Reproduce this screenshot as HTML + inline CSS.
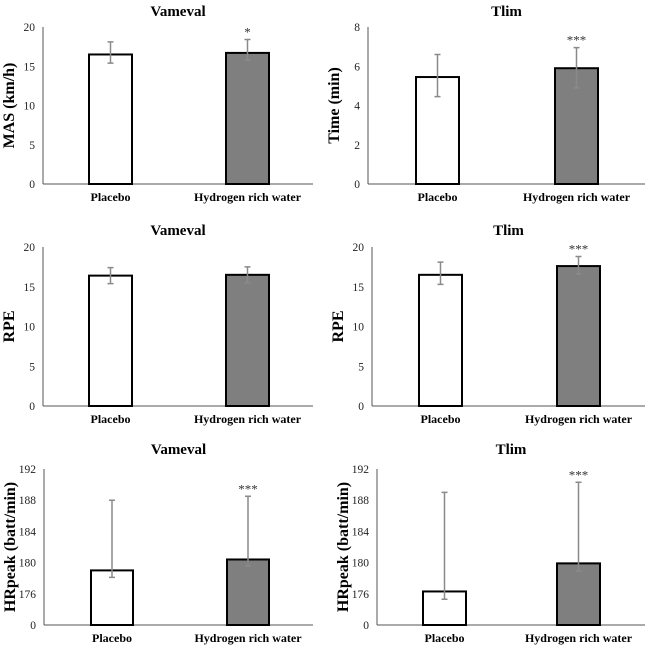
<!DOCTYPE html>
<html><head><meta charset="utf-8"><style>
body{margin:0;background:#fff;}
svg{display:block;font-family:"Liberation Serif",serif;}
</style></head><body>
<svg id="c" width="650" height="648"></svg>
<script>
const categories = ["Placebo","Hydrogen rich water"];
const p1Values = [16.5, 16.7], p1Lo = [15.4, 15.8], p1Hi = [18.1, 18.4], p1Sig = ["", "*"];
const p2Values = [5.45, 5.9], p2Lo = [4.45, 4.9], p2Hi = [6.6, 6.95], p2Sig = ["", "***"];
const p3Values = [16.4, 16.5], p3Lo = [15.4, 15.5], p3Hi = [17.4, 17.5], p3Sig = ["", ""];
const p4Values = [16.5, 17.6], p4Lo = [15.3, 16.6], p4Hi = [18.1, 18.8], p4Sig = ["", "***"];
const p5Values = [179.0, 180.4], p5Lo = [178.1, 179.6], p5Hi = [188.0, 188.5], p5Sig = ["", "***"];
const p6Values = [176.3, 179.9], p6Lo = [175.3, 178.9], p6Hi = [189.0, 190.3], p6Sig = ["", "***"];
const ticks20 = ["0","5","10","15","20"];
const ticks8 = ["0","2","4","6","8"];
const ticksHR = ["0","176","180","184","188","192"];

const svg = document.getElementById('c');
const NS = "http://www.w3.org/2000/svg";
function mk(tag, attrs, parent){const e=document.createElementNS(NS,tag);for(const k in attrs)e.setAttribute(k,attrs[k]);(parent||svg).appendChild(e);return e;}

function panel(o){
  const g = mk('g',{});
  
  
  const n = o.ticks.length-1;
  const y = v => o.y0 - o.pos(v)/n*(o.y0-o.yTop);
  const t = mk('text',{x:(o.ax+o.axEnd)/2,y:o.titleY,'text-anchor':'middle','font-size':15,'font-weight':'bold'},g);
  t.textContent = o.title;
  
  
  const yl = mk('text',{transform:`translate(${o.ax-29},${(o.y0+o.yTop)/2}) rotate(-90)`,'text-anchor':'middle','font-size':16,'font-weight':'bold'},g);
  yl.textContent = o.ylab;
  
  
  o.ticks.forEach((lab,i)=>{
    const yy = o.y0 - i/n*(o.y0-o.yTop);
    const tt = mk('text',{x:o.ax-8,y:yy+4,'text-anchor':'end','font-size':11.5,fill:'#222'},g);
    tt.textContent = lab;
    
    
  });
  const ya = mk('line',{x1:o.ax,y1:o.yTop,x2:o.ax,y2:o.y0,stroke:'#555','stroke-width':1},g);
  
  
  const xa = mk('line',{x1:o.ax,y1:o.y0,x2:o.axEnd,y2:o.y0,stroke:'#555','stroke-width':1},g);
  
  
  categories.forEach((c,i)=>{
    const x0 = o.bx[i], w = o.bw;
    const top = y(o.vals[i]);
    const b = mk('rect',{x:x0,y:top,width:w,height:o.y0-top,fill:i?'#7f7f7f':'#fff',stroke:'#000','stroke-width':2},g);
    
    
    const cx = x0+w/2, yh=y(o.hi[i]), ylo=y(o.lo[i]);
    const e = mk('path',{d:`M${cx},${yh}V${ylo}M${cx-3},${yh}H${cx+3}M${cx-3},${ylo}H${cx+3}`,stroke:'#8a8a8a','stroke-width':1.5,fill:'none'},g);
    
    
    if(o.sig[i]){
      const s = mk('text',{x:cx,y:yh-3,'text-anchor':'middle','font-size':13,fill:'#333'},g);
      s.textContent = o.sig[i];
      
      
    }
    const xl = mk('text',{x:cx,y:o.y0+17,'text-anchor':'middle','font-size':12,'font-weight':'bold'},g);
    xl.textContent = c;
    
    
  });
}
const hr = v => 1 + (v-176)/4;
panel({name:'vameval-mas-chart',title:'Vameval',ylab:'MAS (km/h)',ticks:ticks20,pos:v=>v/5,vals:p1Values,lo:p1Lo,hi:p1Hi,sig:p1Sig,ax:43,axEnd:313,yTop:27,y0:184,titleY:16,bx:[89,226],bw:43});
panel({name:'tlim-time-chart',title:'Tlim',ylab:'Time (min)',ticks:ticks8,pos:v=>v/2,vals:p2Values,lo:p2Lo,hi:p2Hi,sig:p2Sig,ax:368,axEnd:645,yTop:27,y0:184,titleY:16,bx:[416,555],bw:43});
panel({name:'vameval-rpe-chart',title:'Vameval',ylab:'RPE',ticks:ticks20,pos:v=>v/5,vals:p3Values,lo:p3Lo,hi:p3Hi,sig:p3Sig,ax:43,axEnd:313,yTop:247,y0:406,titleY:235,bx:[89,226],bw:43});
panel({name:'tlim-rpe-chart',title:'Tlim',ylab:'RPE',ticks:ticks20,pos:v=>v/5,vals:p4Values,lo:p4Lo,hi:p4Hi,sig:p4Sig,ax:372,axEnd:645,yTop:247,y0:406,titleY:235,bx:[419,557],bw:43});
panel({name:'vameval-hrpeak-chart',title:'Vameval',ylab:'HRpeak (batt/min)',ticks:ticksHR,pos:hr,vals:p5Values,lo:p5Lo,hi:p5Hi,sig:p5Sig,ax:44,axEnd:313,yTop:469,y0:625,titleY:454,bx:[91,227],bw:42});
panel({name:'tlim-hrpeak-chart',title:'Tlim',ylab:'HRpeak (batt/min)',ticks:ticksHR,pos:hr,vals:p6Values,lo:p6Lo,hi:p6Hi,sig:p6Sig,ax:377,axEnd:645,yTop:469,y0:625,titleY:454,bx:[423,557],bw:43});
</script>
</body></html>
